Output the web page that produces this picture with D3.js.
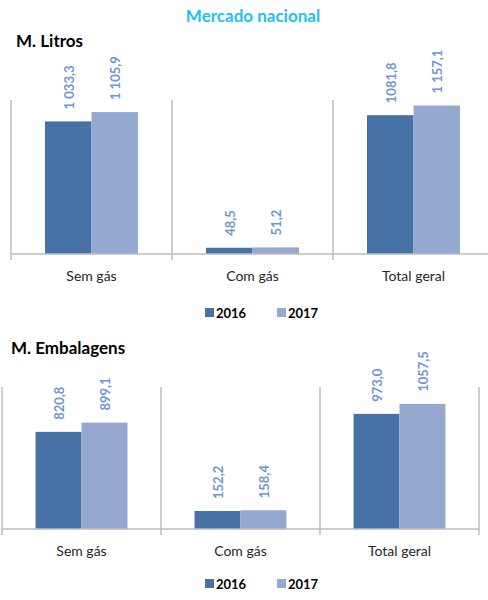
<!DOCTYPE html>
<html>
<head>
<meta charset="utf-8">
<script src="https://cdn.jsdelivr.net/npm/d3@7"></script>
<style>
  html, body { margin: 0; padding: 0; background: #ffffff; }
  svg { display: block; }
  text { font-family: Lato, "Open Sans", "Noto Sans", sans-serif; }
</style>
</head>
<body>
<svg id="chart" width="488" height="600"></svg>
<script>
// Categories and series
const categories = ["Sem gás", "Com gás", "Total geral"];
const seriesNames = ["2016", "2017"];
const seriesColors = ["#4672A6", "#95A9D0"];

// Million litres
const litros2016 = [1033.3, 48.5, 1081.8];
const litros2017 = [1105.9, 51.2, 1157.1];
const litrosLabels2016 = ["1 033,3", "48,5", "1081,8"];
const litrosLabels2017 = ["1 105,9", "51,2", "1 157,1"];

// Million packages
const embalagens2016 = [820.8, 152.2, 973.0];
const embalagens2017 = [899.1, 158.4, 1057.5];
const embalagensLabels2016 = ["820,8", "152,2", "973,0"];
const embalagensLabels2017 = ["899,1", "158,4", "1057,5"];

const yMax = 1200;

const svg = d3.select("#chart");

svg.append("text")
  .attr("x", 253).attr("y", 22)
  .attr("text-anchor", "middle")
  .attr("font-size", 17).attr("font-weight", 700)
  .attr("fill", "#22C0F0")
  .text("Mercado nacional");

function drawPanel(cfg) {
  const g = svg.append("g");

  g.append("text")
    .attr("x", cfg.titleX).attr("y", cfg.titleY)
    .attr("font-size", 17).attr("font-weight", 700)
    .attr("fill", "#000")
    .text(cfg.title);

  const x = d3.scaleBand().domain(categories).range(cfg.xRange).padding(0);
  const xs = d3.scaleBand().domain(seriesNames).range([0, x.bandwidth()])
    .paddingInner(0).paddingOuter(0.73);
  const y = d3.scaleLinear().domain([0, yMax]).range([cfg.base, cfg.top]);

  // category separators with tick stubs below the baseline
  const bounds = categories.map(c => x(c)).concat([x(categories[categories.length - 1]) + x.bandwidth()]);
  g.selectAll("line.sep").data(bounds).join("line")
    .attr("class", "sep")
    .attr("x1", d => d).attr("x2", d => d)
    .attr("y1", cfg.top).attr("y2", cfg.base + 6)
    .attr("stroke", "#BDBDBD").attr("stroke-width", 1.5);

  // bars
  const values = [cfg.v2016, cfg.v2017];
  const labels = [cfg.l2016, cfg.l2017];
  seriesNames.forEach((s, si) => {
    const data = categories.map((c, i) => ({ c, v: values[si][i], label: labels[si][i] }));
    g.selectAll("rect.s" + si).data(data).join("rect")
      .attr("class", "s" + si)
      .attr("x", d => x(d.c) + xs(s))
      .attr("width", xs.bandwidth())
      .attr("y", d => y(d.v))
      .attr("height", d => y(0) - y(d.v))
      .attr("fill", seriesColors[si]);

    g.selectAll("text.l" + si).data(data).join("text")
      .attr("class", "l" + si)
      .attr("transform", d => `translate(${x(d.c) + xs(s) + xs.bandwidth() / 2 + 1},${y(d.v) - 12}) rotate(-90)`)
      .attr("dy", "0.35em")
      .attr("text-anchor", "start")
      .attr("font-size", 13).attr("font-weight", 700)
      .attr("fill", "#7096CB")
      .text(d => d.label);
  });

  // baseline
  g.append("line")
    .attr("x1", cfg.xRange[0]).attr("x2", cfg.xRange[1])
    .attr("y1", cfg.base).attr("y2", cfg.base)
    .attr("stroke", "#BDBDBD").attr("stroke-width", 1.5);

  // category labels
  const axis = d3.axisBottom(x).tickSize(0).tickPadding(0);
  const ax = g.append("g").attr("transform", `translate(0,${cfg.base})`).call(axis);
  ax.select(".domain").remove();
  ax.selectAll("text")
    .attr("y", 27).attr("dy", 0)
    .attr("font-size", 14)
    .attr("font-family", "Lato, 'Open Sans', sans-serif")
    .attr("fill", "#262626");

  // legend
  const lg = g.append("g").attr("transform", `translate(0,${cfg.legendY})`);
  const lx = [205, 277];
  seriesNames.forEach((s, si) => {
    lg.append("rect").attr("x", lx[si]).attr("y", -5).attr("width", 9).attr("height", 9)
      .attr("fill", seriesColors[si]);
    lg.append("text").attr("x", lx[si] + 11).attr("y", 5)
      .attr("font-size", 13).attr("font-weight", 700).attr("fill", "#000")
      .text(s);
  });
}

drawPanel({
  title: "M. Litros", titleX: 16, titleY: 47,
  xRange: [11, 494], top: 100, base: 254, legendY: 313,
  v2016: litros2016, v2017: litros2017,
  l2016: litrosLabels2016, l2017: litrosLabels2017
});

drawPanel({
  title: "M. Embalagens", titleX: 11, titleY: 354,
  xRange: [2, 479], top: 387, base: 529, legendY: 584,
  v2016: embalagens2016, v2017: embalagens2017,
  l2016: embalagensLabels2016, l2017: embalagensLabels2017
});
</script>
</body>
</html>
